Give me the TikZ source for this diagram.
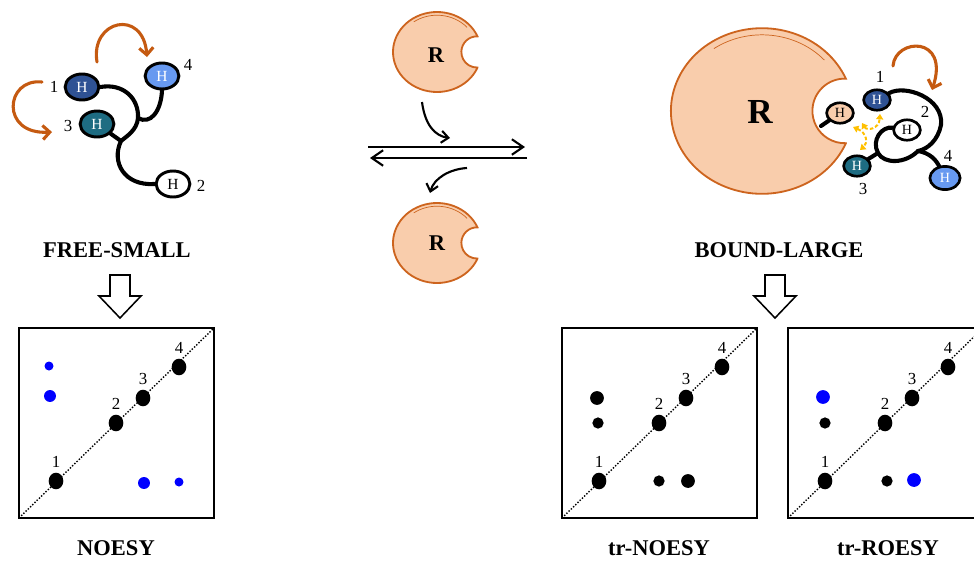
\documentclass[tikz,border=0pt]{standalone}
\usepackage{fontspec}
\setmainfont{Liberation Serif}
\usetikzlibrary{shapes.geometric,arrows.meta,backgrounds}

\definecolor{peach}{RGB}{249,205,172}
\definecolor{peachline}{RGB}{205,100,30}
\definecolor{swing}{RGB}{197,90,17}
\definecolor{hdark}{RGB}{47,82,148}
\definecolor{hteal}{RGB}{30,108,130}
\definecolor{hlight}{RGB}{103,153,240}
\definecolor{noegold}{RGB}{255,192,0}
\definecolor{peakblue}{RGB}{0,0,255}

\tikzset{
  hatom/.style={ellipse, draw=black, line width=2.1pt, inner sep=0pt,
    minimum width=24pt, minimum height=18.5pt, font=\fontsize{11}{11}\selectfont},
  hbound/.style={hatom, line width=1.9pt, minimum width=19pt,
    minimum height=14.5pt, font=\fontsize{10}{10}\selectfont},
  num/.style={inner sep=0pt, font=\fontsize{12}{12}\selectfont},
  title/.style={inner sep=0pt, font=\bfseries\fontsize{16}{16}\selectfont},
  backbone/.style={line width=2.9pt, line cap=round},
  swingarrow/.style={draw=swing, line width=2.2pt, line cap=round,
    -{Straight Barb[length=5pt,width=10pt]}},
  bindarrow/.style={line width=1.5pt, -{Straight Barb[length=5pt,width=8.5pt]}},
  eqarrow/.style={line width=1.5pt, -{Straight Barb[length=8pt,width=11pt]}},
  nuclear/.style={draw=noegold, line width=1.4pt, dash pattern=on 2.5pt off 1.5pt,
    {Triangle[length=3.8pt,width=5pt]}-{Triangle[length=3.8pt,width=5pt]}},
  blockarrow/.style={draw=black, fill=white, line width=1.1pt, line join=miter},
  plotbox/.style={draw=black, line width=1.4pt},
  diagline/.style={line width=1pt, dash pattern=on 1pt off 1.2pt},
  peak/.style={ellipse, fill=black, inner sep=0pt, minimum width=10.4pt, minimum height=11.8pt},
  xpeak/.style={circle, fill=#1, inner sep=0pt},
  receptor/.pic={
    \draw[fill=peach, draw=peachline, line width=1.3pt]
      (23:44 and 40) arc[start angle=23, end angle=337, x radius=44, y radius=40]
      arc[start angle=272, end angle=88, radius=15.6] -- cycle;
    \draw[peachline, line width=0.5pt]
      (235:40.5 and 36.8) arc[start angle=235, end angle=318, x radius=40.5, y radius=36.8];
  }
}

\begin{document}
\begin{tikzpicture}[x=0.025cm, y=-0.025cm]
\useasboundingbox (0,0) rectangle (974,561);

% receptors
\pic (rtop) at (437,52) {receptor};
\pic (rbot) at (437,243) {receptor};
\pic[scale=2.07] (rbig) at (762,111) {receptor};
\node[font=\bfseries\fontsize{16}{16}\selectfont] (rtopR) at (436,55) {R};
\node[font=\bfseries\fontsize{16}{16}\selectfont] (rbotR) at (437,243) {R};
\node[font=\bfseries\fontsize{25}{25}\selectfont] (rbigR) at (760,112) {R};

% free ligand
\node[hatom, fill=hdark, text=white] (f1) at (82,87) {H};
\node[hatom, fill=hteal, text=white] (f3) at (97,124) {H};
\node[hatom, fill=hlight, text=white] (f4) at (162,76) {H};
\node[hatom, fill=white] (f2) at (173,184) {H};
\node[num] (f1n) at (54,87) {1};
\node[num] (f2n) at (201,186) {2};
\node[num] (f3n) at (68,126) {3};
\node[num] (f4n) at (188,65) {4};
\coordinate (fa) at (138,118);
\coordinate (fb) at (121,141);
\begin{scope}[on background layer]
  \draw[backbone] (f1.east) .. controls (124,83) and (139,99) .. (fa)
    .. controls (137,130) and (127,136) .. (fb)
    .. controls (111,162) and (124,186) .. (f2.west);
  \draw[backbone] (fa) .. controls (150,125) and (161,112) .. (f4.south);
  \draw[backbone] (f3) -- (fb);
\end{scope}
\draw[swingarrow] (97,62) .. controls (90,20) and (143,8) .. (147,57);
\draw[swingarrow] (42,82) .. controls (5,78) and (0,135) .. (52,132);

% bound ligand in the pocket
\node[hbound, fill=peach] (b0) at (840,113) {H};
\node[hbound, fill=hdark, text=white] (b1) at (877,100) {H};
\node[hbound, fill=white] (b2) at (907,130) {H};
\node[hbound, fill=hteal, text=white] (b3) at (857,166) {H};
\node[hbound, fill=hlight, text=white, minimum width=21.5pt, minimum height=16.5pt] (b4) at (945,178) {H};
\node[num] (b1n) at (880,77) {1};
\node[num] (b2n) at (925,112) {2};
\node[num] (b3n) at (863,189) {3};
\node[num] (b4n) at (948,156) {4};
\coordinate (bj) at (918,151);
\coordinate (bk) at (878,153);
\coordinate (bs) at (821,126);
\begin{scope}[on background layer]
  \draw[backbone] (b1) .. controls (905,84) and (944,98) .. (941,125)
    .. controls (938,140) and (928,149) .. (bj);
  \draw[backbone] (bj) .. controls (930,153) and (936,160) .. (b4);
  \draw[backbone] (bj) .. controls (905,164) and (884,164) .. (bk)
    .. controls (871,140) and (882,126) .. (b2);
  \draw[backbone] (b3) -- (bk);
  \draw[backbone] (b0) -- (bs);
\end{scope}
\draw[swingarrow] (893,66) .. controls (895,38) and (950,35) .. (932,90);
\draw[nuclear] (862,123) .. controls (867,131) and (879,129) .. (880,114);
\draw[nuclear] (853,127) .. controls (867,133) and (868,143) .. (860,150);

% exchange
\coordinate (eqa) at (368,147);
\coordinate (eqb) at (525,147);
\coordinate (eqc) at (527,158);
\coordinate (eqd) at (370,158);
\draw[eqarrow] (eqa) -- (eqb);
\draw[eqarrow] (eqc) -- (eqd);
\draw[bindarrow] (422,102) .. controls (425,125) and (435,136) .. (450,138);
\draw[bindarrow] (467,168) .. controls (450,169) and (434,178) .. (430,193);

% titles
\node[title] (free) at (117,250.5) {FREE-SMALL};
\node[title] (bound) at (779,250.5) {BOUND-LARGE};
\node[title] (noesy) at (116,548) {NOESY};
\node[title] (trnoesy) at (659,548) {tr-NOESY};
\node[title] (trroesy) at (888,548) {tr-ROESY};

\foreach \ax in {120,775}
  \draw[blockarrow] (\ax-10,275) -- (\ax+10,275) -- (\ax+10,296) -- (\ax+21,296)
    -- (\ax,318) -- (\ax-21,296) -- (\ax-10,296) -- cycle;

% spectra
\foreach \bx/\bn in {19/no,562/tn,788/tr} {
  \draw[plotbox] (\bx,328) rectangle ++(195,190);
  \draw[diagline] (\bx,518) -- ++(195,-190);
  \foreach \px/\py/\k in {37/37/1,97/95/2,124/120/3,160/151/4}
    \node[peak, label={[num, label distance=3pt]above:\k}] (\bn\k) at (\bx+\px,518-\py) {};
}
% cross peaks
\node[xpeak=peakblue, minimum size=6.4pt] (no14) at (49,366) {};
\node[xpeak=peakblue, minimum size=8.5pt] (no13) at (50,396) {};
\node[xpeak=peakblue, minimum size=8.5pt] (no31) at (144,483) {};
\node[xpeak=peakblue, minimum size=6.4pt] (no41) at (179,482) {};
\node[xpeak=black, minimum size=9.8pt] (tn13) at (597,398) {};
\node[xpeak=black, minimum size=8pt] (tn12) at (598,423) {};
\node[xpeak=black, minimum size=8pt] (tn21) at (659,481) {};
\node[xpeak=black, minimum size=9.8pt] (tn31) at (688,481) {};
\node[xpeak=peakblue, minimum size=9.8pt] (tr13) at (823,397) {};
\node[xpeak=black, minimum size=8pt] (tr12) at (825,423) {};
\node[xpeak=black, minimum size=8pt] (tr21) at (887,481) {};
\node[xpeak=peakblue, minimum size=9.8pt] (tr31) at (914,480) {};
\end{tikzpicture}
\end{document}
